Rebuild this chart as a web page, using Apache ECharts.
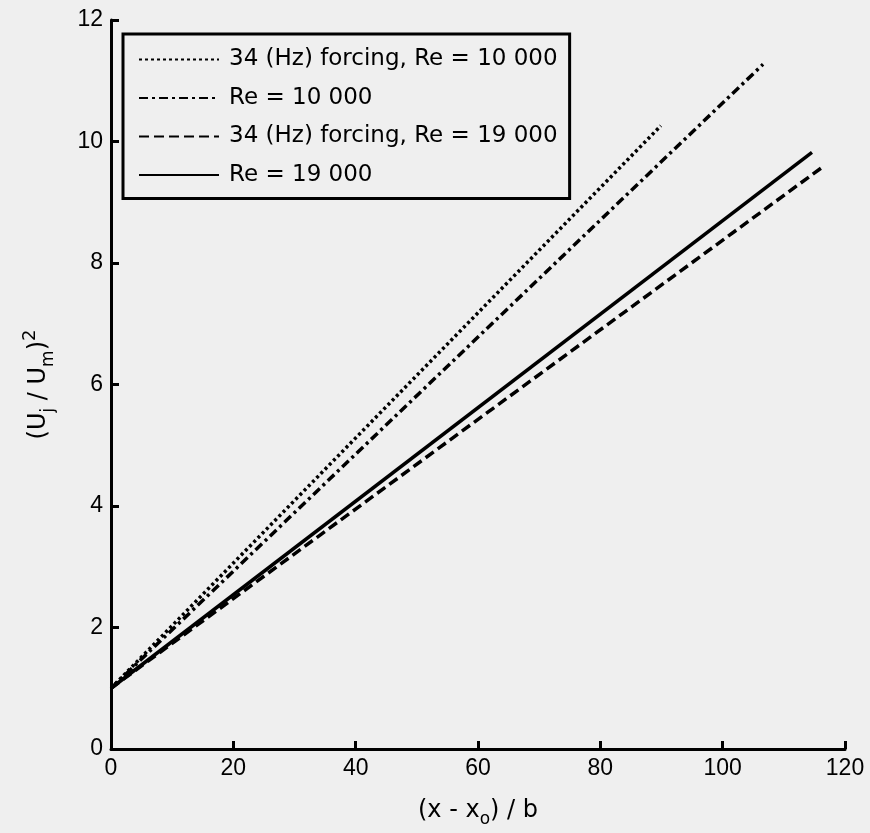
<!DOCTYPE html>
<html>
<head>
<meta charset="utf-8">
<script src="https://cdn.jsdelivr.net/npm/echarts@6/dist/echarts.min.js"></script>
<style>
html,body{margin:0;padding:0;background:#efefef;}
#chart{width:870px;height:833px;}
</style>
</head>
<body>
<div id="chart"></div>
<script>
// ---- data ----
const seriesNames = [
  '34 (Hz) forcing, Re = 10 000',
  'Re = 10 000',
  '34 (Hz) forcing, Re = 19 000',
  'Re = 19 000'
];
const forced10kX = [0, 89.9];
const forced10kY = [1.0, 10.26];
const base10kX = [0, 106.6];
const base10kY = [1.0, 11.27];
const forced19kX = [0, 116.6];
const forced19kY = [1.0, 9.60];
const base19kX = [0, 114.6];
const base19kY = [1.0, 9.82];
const xTicks = [0, 20, 40, 60, 80, 100, 120];
const yTicks = [0, 2, 4, 6, 8, 10, 12];

function pairs(xs, ys) { return xs.map((x, i) => [x, ys[i]]); }

const FONT = '"Liberation Sans", Arial, sans-serif';
const WFONT = '"DejaVu Sans", "Liberation Sans", sans-serif';
const lineStyles = [
  { color: '#000', width: 3.5, type: [3, 3] },
  { color: '#000', width: 3.5, type: [9, 4, 3, 4] },
  { color: '#000', width: 3.5, type: [10, 5] },
  { color: '#000', width: 3.5, type: 'solid' }
];
const dataSets = [
  pairs(forced10kX, forced10kY),
  pairs(base10kX, base10kY),
  pairs(forced19kX, forced19kY),
  pairs(base19kX, base19kY)
];

const chart = echarts.init(document.getElementById('chart'), null, { renderer: 'canvas' });
const axisCommon = {
  axisLine: { show: true, onZero: false, lineStyle: { color: '#000', width: 3 } },
  axisTick: { show: true, inside: true, length: 8, lineStyle: { color: '#000', width: 3 } },
  splitLine: { show: false },
  axisLabel: { color: '#000', fontSize: 23, fontFamily: FONT, margin: 8 }
};

chart.setOption({
  backgroundColor: '#efefef',
  animation: false,
  grid: { left: 111, right: 25, top: 20, bottom: 77, containLabel: false },
  legend: {
    orient: 'vertical',
    left: 123,
    top: 34,
    data: seriesNames,
    itemWidth: 80,
    itemHeight: 14,
    itemGap: 15.5,
    padding: [14, 12, 12, 15],
    borderColor: '#000',
    borderWidth: 3,
    backgroundColor: '#efefef',
    selectedMode: false,
    itemStyle: { color: 'rgba(0,0,0,0)', borderWidth: 0, opacity: 0 },
    textStyle: { color: '#000', fontSize: 23, fontFamily: WFONT, width: 335, padding: [0, 0, 0, 5] }
  },
  xAxis: Object.assign({}, axisCommon, {
    type: 'value', min: xTicks[0], max: xTicks[xTicks.length - 1], interval: 20,
    name: '{m|(x - x}{s|o}{m|) / b}',
    nameLocation: 'middle',
    nameGap: 45,
    nameTextStyle: {
      color: '#000', fontFamily: WFONT,
      rich: {
        m: { fontSize: 24, lineHeight: 34, fontFamily: WFONT, color: '#000' },
        s: { fontSize: 17, lineHeight: 17, verticalAlign: 'bottom', fontFamily: WFONT, color: '#000' }
      }
    }
  }),
  yAxis: Object.assign({}, axisCommon, {
    type: 'value', min: yTicks[0], max: yTicks[yTicks.length - 1], interval: 2,
    name: '{m|(U}{s|j}{m| / U}{s|m}{m|)}{p|2}',
    nameLocation: 'middle',
    nameRotate: 90,
    nameGap: 54,
    nameTextStyle: {
      color: '#000', fontFamily: WFONT,
      rich: {
        m: { fontSize: 24, lineHeight: 36, fontFamily: WFONT, color: '#000' },
        s: { fontSize: 17, lineHeight: 17, verticalAlign: 'bottom', fontFamily: WFONT, color: '#000' },
        p: { fontSize: 18, lineHeight: 18, verticalAlign: 'top', fontFamily: WFONT, color: '#000' }
      }
    }
  }),
  series: seriesNames.map((n, i) => ({
    name: n,
    type: 'line',
    data: dataSets[i],
    symbol: 'none',
    showSymbol: false,
    lineStyle: lineStyles[i],
    itemStyle: { color: '#000' },
    z: 3
  }))
});
</script>
</body>
</html>
